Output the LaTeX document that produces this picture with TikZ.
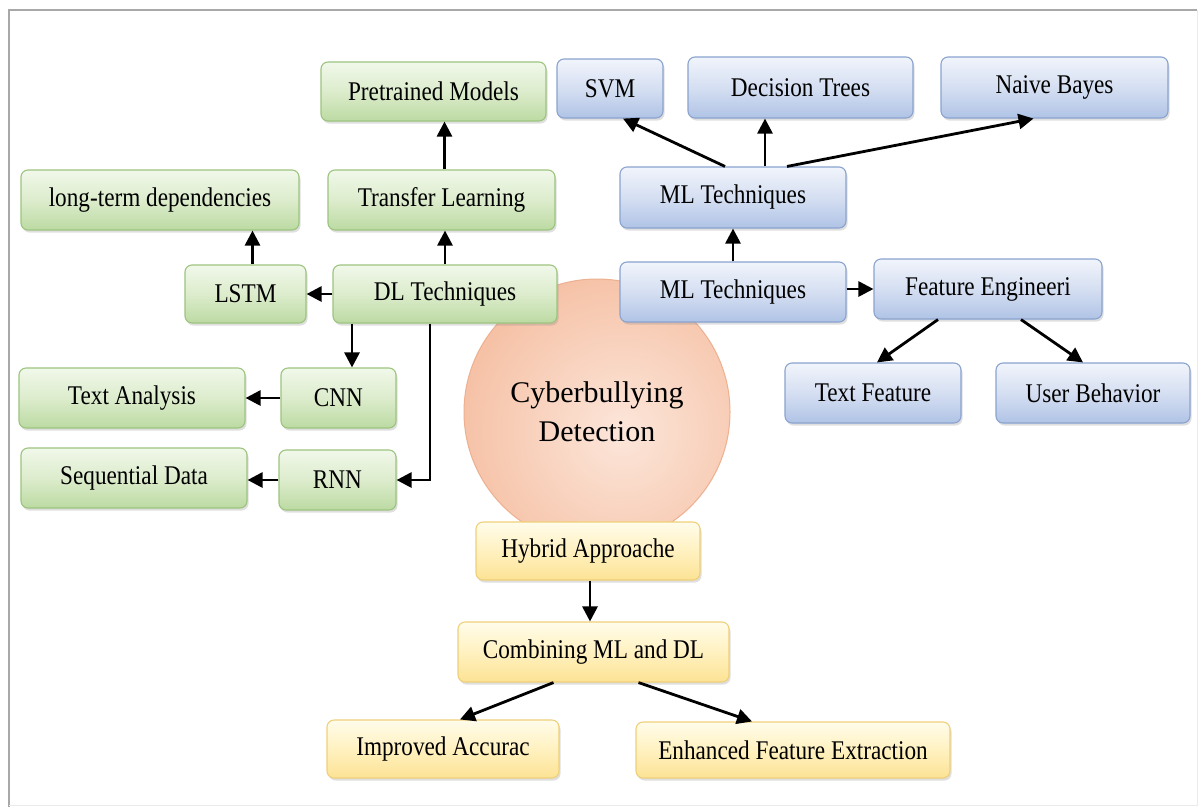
\documentclass[tikz,border=0pt]{standalone}
\usepackage{fontspec}
\setmainfont{Liberation Serif}
\newfontfamily\boxfont{Liberation Serif}[FakeStretch=0.86]
\usetikzlibrary{arrows.meta,shadows,calc}
\definecolor{gtop}{HTML}{F1F8EA}
\definecolor{gmid}{HTML}{DCECCC}
\definecolor{gbot}{HTML}{BCDAA2}
\definecolor{gdraw}{HTML}{9DC47F}
\definecolor{btop}{HTML}{F1F4FB}
\definecolor{bmid}{HTML}{D5DFF2}
\definecolor{bbot}{HTML}{B0C3E5}
\definecolor{bdraw}{HTML}{8AA3CF}
\definecolor{ytop}{HTML}{FFFCEA}
\definecolor{ymid}{HTML}{FFF1C0}
\definecolor{ybot}{HTML}{FCE294}
\definecolor{ydraw}{HTML}{EFD07A}
\definecolor{cin}{HTML}{FCE6DA}
\definecolor{cout}{HTML}{F3B290}
\definecolor{cdraw}{HTML}{EDB090}
\definecolor{framec}{HTML}{A8A8A8}
\tikzset{
  basebox/.style={rounded corners=7pt, line width=1.1pt, inner sep=0pt,
    font=\boxfont\fontsize{27}{30}\selectfont, text=black,
    drop shadow={opacity=0.25, shadow xshift=1.5pt, shadow yshift=-2.5pt}},
  gbox/.style={basebox, draw=gdraw, top color=gtop, bottom color=gbot, middle color=gmid},
  bbox/.style={basebox, draw=bdraw, top color=btop, bottom color=bbot, middle color=bmid},
  ybox/.style={basebox, draw=ydraw, top color=ytop, bottom color=ybot, middle color=ymid},
  arr/.style={line width=2.8pt, black, -{Triangle[length=15pt,width=15pt]}},
  sz/.style 2 args={minimum width=#1pt, minimum height=#2pt}
}
\begin{document}
\begin{tikzpicture}[x=1pt,y=-1pt]
\useasboundingbox (0,0) rectangle (1203,807);
\fill[white] (0,0) rectangle (1203,807);
% frame
\draw[framec, line width=1.6pt] (9,807) -- (9,10) -- (1197,10);
\draw[black!8, line width=1pt] (1197,10) -- (1197,805) -- (9,805);

% central circle
\node[circle, minimum size=266pt, draw=cdraw, line width=1pt,
  path picture={\shade[inner color=cin, outer color=cout]
    ($(path picture bounding box.center)+(25,20)$) circle (230pt);},
  align=center, font=\fontsize{30}{39}\selectfont, text=black] (cb) at (597,412)
  {Cyberbullying\\Detection};

% green (DL) boxes
\node[gbox, sz={225}{59}] (pre) at (433.5,91.5) {Pretrained Models};
\node[gbox, sz={278}{60}] (ltd) at (160,200) {long-term dependencies};
\node[gbox, sz={227}{60}] (tl) at (441.5,200) {Transfer Learning};
\node[gbox, sz={121}{58}] (lstm) at (245.5,294) {LSTM};
\node[gbox, sz={224}{58}] (dl) at (445,294) {DL Techniques};
\node[gbox, sz={226}{60}] (ta) at (132,398) {Text Analysis};
\node[gbox, sz={115}{60}] (cnn) at (338.5,398) {CNN};
\node[gbox, sz={226}{60}] (sd) at (134,478) {Sequential Data};
\node[gbox, sz={117}{60}] (rnn) at (337.5,480) {RNN};

% blue (ML) boxes
\node[bbox, sz={106}{59}] (svm) at (610,88.5) {SVM};
\node[bbox, sz={225}{61}] (dt) at (800.5,87.5) {Decision Trees};
\node[bbox, sz={227}{61}] (nb) at (1054.5,87.5) {Naive Bayes};
\node[bbox, sz={226}{61}] (ml1) at (733,197.5) {ML Techniques};
\node[bbox, sz={226}{60}] (ml2) at (733,292) {ML Techniques};
\node[bbox, sz={228}{60}] (fe) at (988,289) {Feature Engineeri};
\node[bbox, sz={176}{60}] (tf) at (873,393) {Text Feature};
\node[bbox, sz={194}{60}] (ub) at (1093,393) {User Behavior};

% yellow (hybrid) boxes
\node[ybox, sz={224}{58}] (ha) at (588,551) {Hybrid Approache};
\node[ybox, sz={271}{60}] (cm) at (593.5,652) {Combining ML and DL};
\node[ybox, sz={232}{58}] (ia) at (443,749) {Improved Accurac};
\node[ybox, sz={314}{56}] (ef) at (793,750) {Enhanced Feature Extraction};

% DL arrows
\draw[arr] ([xshift=3pt]tl.north) -- ([xshift=3pt]tl.north |- pre.south);
\draw[arr] (dl.north) -- (dl.north |- tl.south);
\draw[arr] ([xshift=7pt]lstm.north) -- ([xshift=7pt]lstm.north |- ltd.south);
\draw[arr] (dl.west) -- (lstm.east);
\draw[arr] ([xshift=-93pt]dl.south) -- ([xshift=-93pt]dl.south |- cnn.north);
\draw[arr] ([xshift=-15pt]dl.south) |- (rnn.east);
\draw[arr] (cnn.west) -- (cnn.west -| ta.east);
\draw[arr] (rnn.west) -- (rnn.west -| sd.east);

% ML arrows
\draw[arr] ([xshift=-8pt]ml1.north) -- ([xshift=13pt]svm.south);
\draw[arr] ([xshift=32pt]ml1.north) -- ([xshift=32pt]ml1.north |- dt.south);
\draw[arr] ([xshift=54pt]ml1.north) -- ([xshift=-21pt]nb.south);
\draw[arr] (ml2.north) -- (ml1.south);
\draw[arr] (fe.west -| ml2.east) -- (fe.west);
\draw[arr] ([xshift=-50pt]fe.south) -- ([xshift=4pt]tf.north);
\draw[arr] ([xshift=33pt]fe.south) -- ([xshift=-10pt]ub.north);

% hybrid arrows
\draw[arr] ([xshift=2pt]ha.south) -- ([xshift=2pt]ha.south |- cm.north);
\draw[arr] ([xshift=-40pt]cm.south) -- ([xshift=17pt]ia.north);
\draw[arr] ([xshift=45pt]cm.south) -- ([xshift=-41pt]ef.north);
\end{tikzpicture}
\end{document}
